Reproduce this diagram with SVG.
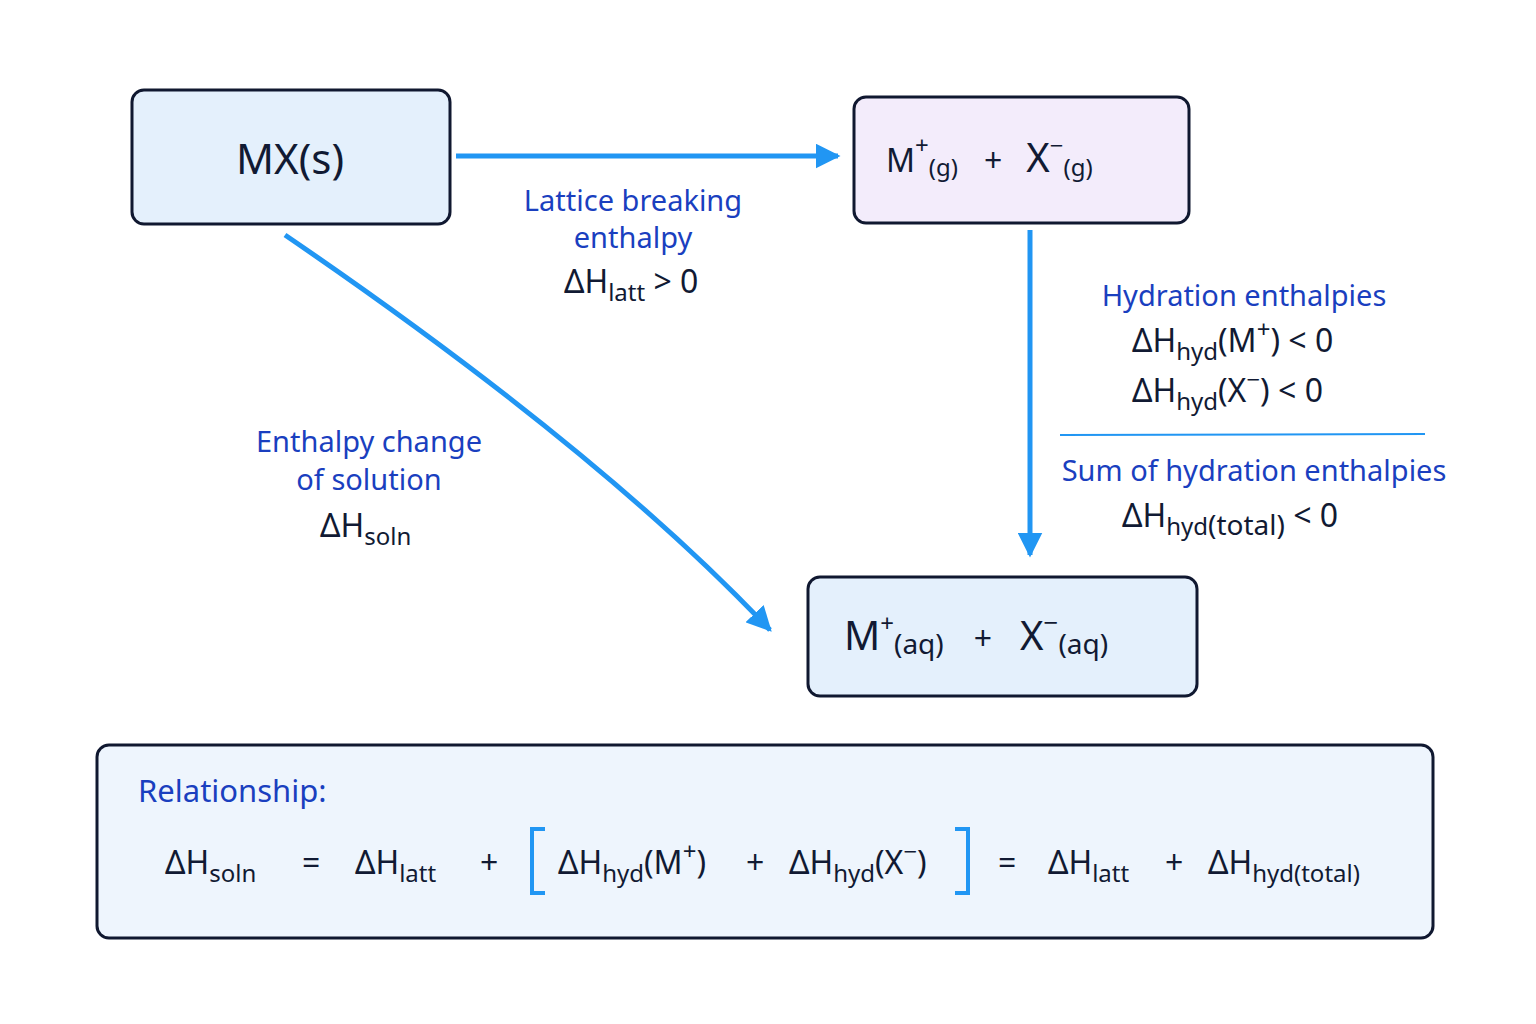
<svg xmlns="http://www.w3.org/2000/svg" width="1536" height="1024" viewBox="0 0 1536 1024">
<defs>
<style>
text{font-family:"Noto Sans","Open Sans",sans-serif;fill:#111a33}
.lbl{fill:#1a3fbf;font-size:29px;text-anchor:middle}
.m{font-size:32px}
.s{font-size:24px}
.box{stroke:#101830;stroke-width:3}
.con{stroke:#2196f3;stroke-width:5;fill:none}
</style>
<marker id="ah" viewBox="0 0 10 10" refX="9" refY="5" markerWidth="5" markerHeight="5" orient="auto" markerUnits="strokeWidth"><path d="M0,0L10,5L0,10z" fill="#2196f3"/></marker>
</defs>
<rect width="1536" height="1024" fill="#fff"/>
<g id="connectors">
<line class="con" x1="456" y1="156" x2="838" y2="156" marker-end="url(#ah)"/>
<line class="con" x1="1030" y1="230" x2="1030" y2="555" marker-end="url(#ah)"/>
<path class="con" d="M285 235 Q600 450 770 630" marker-end="url(#ah)"/>
</g>
<g id="mx">
<rect class="box" x="132" y="90" width="318" height="134" rx="12" fill="#e4f0fc"/>
<text x="290" y="174" font-size="42" text-anchor="middle">MX(s)</text>
</g>
<g id="gas">
<rect class="box" x="854" y="97" width="335" height="126" rx="12" fill="#f3ecfb"/>
<text x="886" y="172" class="m" font-size="40">M<tspan class="s" dy="-18">+</tspan><tspan class="s" dy="22">(g)</tspan><tspan font-size="32" dx="26" dy="-4">+</tspan><tspan font-size="40" dx="24">X</tspan><tspan class="s" dy="-18">−</tspan><tspan class="s" dy="22">(g)</tspan></text>
</g>
<g id="aq">
<rect class="box" x="808" y="577" width="389" height="119" rx="12" fill="#e4f0fc"/>
<text x="844" y="650" font-size="40">M<tspan class="s" dy="-18" font-size="26">+</tspan><tspan font-size="28" dy="22">(aq)</tspan><tspan font-size="32" dx="30" dy="-4">+</tspan><tspan font-size="40" dx="28">X</tspan><tspan font-size="26" dy="-18">−</tspan><tspan font-size="28" dy="22">(aq)</tspan></text>
</g>
<g id="latt-label">
<text class="lbl" x="633" y="211">Lattice breaking</text>
<text class="lbl" x="633" y="248">enthalpy</text>
<text x="564" y="293" class="m">ΔH<tspan class="s" dy="8">latt</tspan><tspan dy="-8"> &gt; 0</tspan></text>
</g>
<g id="soln-label">
<text class="lbl" x="369" y="452">Enthalpy change</text>
<text class="lbl" x="369" y="490">of solution</text>
<text x="320" y="537" class="m">ΔH<tspan class="s" dy="8">soln</tspan></text>
</g>
<g id="hyd-label">
<text class="lbl" x="1244" y="306">Hydration enthalpies</text>
<text x="1132" y="352" class="m">ΔH<tspan class="s" dy="8">hyd</tspan><tspan dy="-8">(M</tspan><tspan class="s" dy="-14">+</tspan><tspan dy="14">) &lt; 0</tspan></text>
<text x="1132" y="402" class="m">ΔH<tspan class="s" dy="8">hyd</tspan><tspan dy="-8">(X</tspan><tspan class="s" dy="-14">−</tspan><tspan dy="14">) &lt; 0</tspan></text>
<line x1="1060" y1="435" x2="1425" y2="434" stroke="#2196f3" stroke-width="2"/>
<text class="lbl" x="1254" y="481">Sum of hydration enthalpies</text>
<text x="1122" y="527" class="m">ΔH<tspan class="s" dy="8">hyd</tspan><tspan font-size="28">(total)</tspan><tspan dy="-8"> &lt; 0</tspan></text>
</g>
<g id="relationship">
<rect class="box" x="97" y="745" width="1336" height="193" rx="12" fill="#eef5fd"/>
<text x="138" y="802" font-size="31" fill="#1a3fbf" style="fill:#1a3fbf">Relationship:</text>
<text x="165" y="874" class="m">ΔH<tspan class="s" dy="8">soln</tspan></text>
<text x="302" y="874" class="m">=</text>
<text x="355" y="874" class="m">ΔH<tspan class="s" dy="8">latt</tspan></text>
<text x="480" y="874" class="m">+</text>
<path d="M545 829H532V893H545M955 829H968V893H955" stroke="#2196f3" stroke-width="4" fill="none"/>
<text x="558" y="874" class="m">ΔH<tspan class="s" dy="8">hyd</tspan><tspan dy="-8">(M</tspan><tspan class="s" dy="-14">+</tspan><tspan dy="14">)</tspan></text>
<text x="746" y="874" class="m">+</text>
<text x="789" y="874" class="m">ΔH<tspan class="s" dy="8">hyd</tspan><tspan dy="-8">(X</tspan><tspan class="s" dy="-14">−</tspan><tspan dy="14">)</tspan></text>
<text x="998" y="874" class="m">=</text>
<text x="1048" y="874" class="m">ΔH<tspan class="s" dy="8">latt</tspan></text>
<text x="1165" y="874" class="m">+</text>
<text x="1208" y="874" class="m">ΔH<tspan class="s" dy="8">hyd(total)</tspan></text>
</g>
</svg>
